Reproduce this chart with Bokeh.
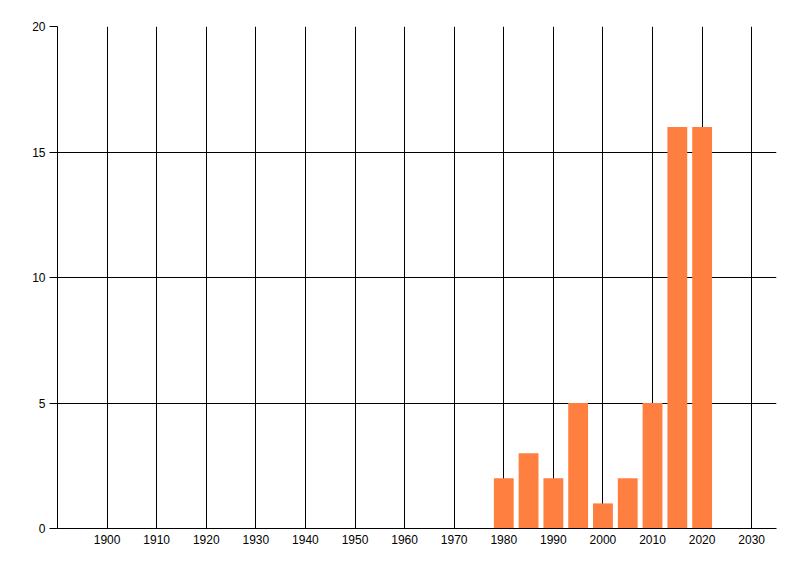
from bokeh.plotting import figure
from bokeh.models import Range1d, FixedTicker
from bokeh.embed import file_html
from bokeh.resources import INLINE

# datos del grafico
years = [1980, 1985, 1990, 1995, 2000, 2005, 2010, 2015, 2020]
counts = [2, 3, 2, 5, 1, 2, 5, 16, 16]
x_ticks = [1900, 1910, 1920, 1930, 1940, 1950, 1960, 1970, 1980, 1990, 2000, 2010, 2020, 2030]
y_ticks = [0, 5, 10, 15, 20]

p = figure(width=792, height=568, output_backend="svg", toolbar_location=None,
           x_range=Range1d(1890, 2035), y_range=Range1d(0, 20),
           min_border_left=57, min_border_right=16, min_border_top=26, min_border_bottom=40)
p.outline_line_color = None
p.background_fill_color = "white"
p.border_fill_color = "white"

p.vbar(x=years, top=counts, width=4, fill_color="#FF7F40", line_color=None)

# ejes
p.xaxis.ticker = FixedTicker(ticks=x_ticks)
p.yaxis.ticker = FixedTicker(ticks=y_ticks)
for ax in (p.xaxis, p.yaxis):
    ax.axis_line_color = "black"
    ax.axis_line_width = 1
    ax.major_label_text_font = "Liberation Sans"
    ax.major_label_text_font_size = "12px"
    ax.major_label_text_color = "black"
    ax.minor_tick_line_color = None
    ax.major_tick_in = 0
p.xaxis.major_tick_out = 0
p.xaxis.major_label_standoff = 6
p.yaxis.major_tick_out = 8
p.yaxis.major_tick_line_color = "black"
p.yaxis.major_label_standoff = 4

# cuadricula negra
p.xgrid.ticker = FixedTicker(ticks=x_ticks)
p.ygrid.ticker = FixedTicker(ticks=y_ticks)
p.grid.grid_line_color = "black"
p.grid.grid_line_width = 1
p.grid.grid_line_alpha = 1.0

open("out.html", "w").write(file_html(p, INLINE))
